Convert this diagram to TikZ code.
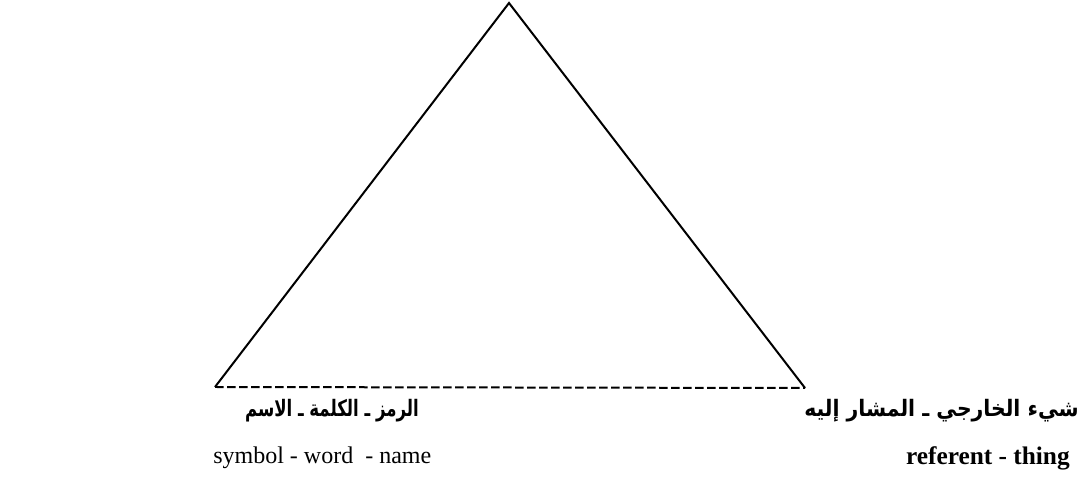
\documentclass[tikz,border=0pt]{standalone}
\usepackage{fontspec}
\setmainfont{Liberation Serif}
\newfontfamily\arabicfont[Script=Arabic, FakeStretch=0.73]{DejaVu Sans}
\newfontfamily\arabicwidefont[Script=Arabic, FakeStretch=0.9]{DejaVu Sans}
\TeXXeTstate=1
\usetikzlibrary{positioning}
\tikzset{
  side/.style={line width=1.5pt, line join=miter},
  baseline/.style={line width=1.5pt, dash pattern=on 6.5pt off 2.5pt},
  arlabel/.style={inner sep=0pt, font=\arabicfont\bfseries\fontsize{17}{20}\selectfont},
  arwidelabel/.style={arlabel, font=\arabicwidefont\bfseries\fontsize{17}{20}\selectfont},
  enlabel/.style={inner sep=0pt, font=\fontsize{18}{21}\selectfont}
}

\begin{document}
\begin{tikzpicture}[x=0.75pt, y=-0.75pt]
    \useasboundingbox (0,0) rectangle (1079,498);
    % corners of the triangle
    \coordinate (thought) at (509,3);
    \coordinate (symbol) at (215,387);
    \coordinate (referent) at (805,388);
    \draw[side] (symbol) -- (thought) -- (referent);
    \draw[baseline] (symbol) -- (referent);
    % labels
    \node[arlabel, anchor=east] (symar) at (419,411) {\beginR الرمز ـ الكلمة ـ الاسم\endR};
    \node[enlabel, anchor=west] (symen) at (213,458) {symbol - word \ - name};
    \node[arwidelabel, anchor=east] (refar) at (1079,411) {\beginR شيء الخارجي ـ المشار إليه\endR};
    \node[enlabel, font=\bfseries\fontsize{19}{22}\selectfont, anchor=east] (refen) at (1070,458) {referent - thing};
\end{tikzpicture}
\end{document}
